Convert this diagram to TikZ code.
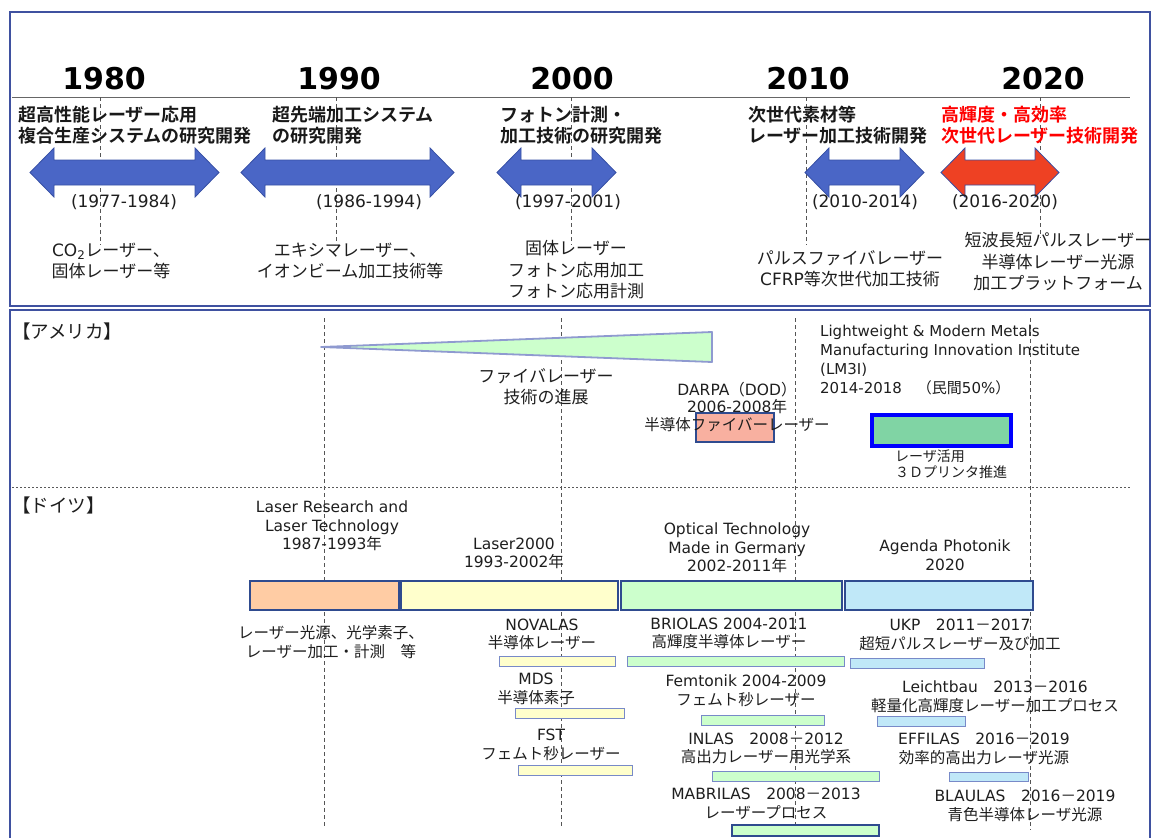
\documentclass[tikz,border=0pt]{standalone}
\usepackage{fontspec}
\setmainfont{Noto Sans CJK JP}[BoldFont={Noto Sans CJK JP Bold}]
\newfontfamily\latfont{DejaVu Sans}
\newcommand\Lat[1]{{\latfont #1}}
\definecolor{framec}{RGB}{63,81,160}
\definecolor{arrblue}{RGB}{74,102,198}
\definecolor{arrline}{RGB}{55,80,165}
\definecolor{arrred}{RGB}{238,65,35}
\definecolor{txtred}{RGB}{255,0,0}
\definecolor{barline}{RGB}{47,75,143}
\definecolor{thinline}{RGB}{120,138,200}
\definecolor{orangef}{RGB}{255,204,164}
\definecolor{yellowf}{RGB}{255,255,204}
\definecolor{greenf}{RGB}{204,255,204}
\definecolor{bluef}{RGB}{192,232,248}
\definecolor{pinkf}{RGB}{248,176,160}
\definecolor{lmf}{RGB}{128,212,164}
\definecolor{wedgel}{RGB}{143,154,208}
\definecolor{dashc}{RGB}{85,85,85}
\definecolor{txt}{RGB}{30,30,30}
\newcommand\DblArrow[3]{%
  \draw[#3] (#1,172.5) -- ({#1+24},148) -- ({#1+24},160) -- ({#2-24},160) -- ({#2-24},148)
    -- (#2,172.5) -- ({#2-24},197) -- ({#2-24},185) -- ({#1+24},185) -- ({#1+24},197) -- cycle;}
\begin{document}
\begin{tikzpicture}[x=1pt,y=-1pt,
  every node/.style={inner sep=0pt, text=txt},
  frame/.style={draw=framec, line width=1.5pt},
  tline/.style={draw=black!60, line width=1pt},
  vdash/.style={draw=dashc, line width=0.8pt, dash pattern=on 4pt off 3pt},
  sepline/.style={draw=black!65, line width=0.8pt, dash pattern=on 2pt off 2pt},
  yr/.style={font=\fontsize{30}{34}\selectfont\latfont\bfseries, text=black},
  hd/.style={font=\fontsize{18}{21}\selectfont\bfseries, align=left, anchor=west, text=black!90},
  per/.style={font=\fontsize{17}{20}\selectfont\latfont},
  dtop/.style={font=\fontsize{17}{21.5}\selectfont, align=center},
  lab/.style={font=\fontsize{15.5}{18.6}\selectfont, align=center},
  sml/.style={font=\fontsize{14}{16.5}\selectfont, align=left, anchor=west},
  sect/.style={font=\fontsize{18.5}{21}\selectfont, anchor=west},
  blarr/.style={fill=arrblue, draw=arrline, line width=0.8pt},
  rdarr/.style={fill=arrred, draw=arrline, line width=0.8pt},
  bigbar/.style={draw=barline, line width=2.2pt},
  subbar/.style={draw=thinline, line width=1pt},
]
\useasboundingbox (0,0) rectangle (1154,838);
% frames
\draw[frame] (10,12) rectangle (1150,306);
\draw[frame] (10,310) rectangle (1150,870);
% timeline
\draw[tline] (12,97) -- (1130,97);
% year labels
\node[yr] (y1980) at (104,79) {1980};
\node[yr] (y1990) at (339,79) {1990};
\node[yr] (y2000) at (572,79) {2000};
\node[yr] (y2010) at (808,79) {2010};
\node[yr] (y2020) at (1043,79) {2020};
% top dashed guides
\draw[vdash] (100,97) -- (100,245);
\draw[vdash] (336,97) -- (336,243);
\draw[vdash] (571,97) -- (571,245);
\draw[vdash] (806,97) -- (806,245);
\draw[vdash] (1040,97) -- (1040,238);
% arrows
\DblArrow{30}{219}{blarr}
\DblArrow{241}{454}{blarr}
\DblArrow{497}{616}{blarr}
\DblArrow{805}{924}{blarr}
\DblArrow{941}{1059}{rdarr}
% headings
\node[hd] (h1) at (18,125.5) {超高性能レーザー応用\\複合生産システムの研究開発};
\node[hd] (h2) at (272,125.5) {超先端加工システム\\の研究開発};
\node[hd] (h3) at (500,125.5) {フォトン計測・\\加工技術の研究開発};
\node[hd] (h4) at (748,125.5) {次世代素材等\\レーザー加工技術開発};
\node[hd, text=txtred] (h5) at (941,125.5) {高輝度・高効率\\次世代レーザー技術開発};
% periods
\node[per] (p1) at (124,202) {(1977-1984)};
\node[per] (p2) at (369,202) {(1986-1994)};
\node[per] (p3) at (568,202) {(1997-2001)};
\node[per] (p4) at (865,202) {(2010-2014)};
\node[per] (p5) at (1005,202) {(2016-2020)};
% descriptions
\node[dtop] (d1) at (111,261) {\Lat{CO\textsubscript{2}}レーザー、\\固体レーザー等};
\node[dtop] (d2) at (350,261) {エキシマレーザー、\\イオンビーム加工技術等};
\node[dtop] (d3) at (576,270) {固体レーザー\\フォトン応用加工\\フォトン応用計測};
\node[dtop] (d4) at (850,268.5) {パルスファイバレーザー\\\Lat{CFRP}等次世代加工技術};
\node[dtop] (d5) at (1058,262) {短波長短パルスレーザー\\半導体レーザー光源\\加工プラットフォーム};
% lower section guides
\draw[vdash] (324,318) -- (324,828);
\draw[vdash] (561,318) -- (561,828);
\draw[vdash] (795,318) -- (795,830);
\draw[vdash] (1030,318) -- (1030,830);
\draw[sepline] (12,487) -- (1130,487);
% America
\node[sect] (usa) at (12,331) {【アメリカ】};
\draw[draw=wedgel, fill=greenf, line width=1.8pt, line join=round] (321,347) -- (712,332) -- (712,362) -- cycle;
\node[dtop] (fiber) at (546,386.5) {ファイバレーザー\\技術の進展};
\draw[bigbar, fill=pinkf] (696,413) rectangle (774,442);
\node[lab, font=\fontsize{15.5}{17.5}\selectfont] (darpa) at (737,406.5) {\Lat{DARPA}（\Lat{DOD}）\\\Lat{2006-2008}年\\半導体ファイバーレーザー};
\node[lab, align=left, anchor=west, font=\fontsize{15}{19}\selectfont] (lm3i) at (820,360.5)
  {\Lat{Lightweight \& Modern Metals}\\\Lat{Manufacturing Innovation Institute}\\\Lat{(LM3I)}\\\Lat{2014-2018}　（民間\Lat{50\%}）};
\draw[draw=blue, fill=lmf, line width=3.5pt] (872,415) rectangle (1011,446);
\node[sml] (lmnote) at (895,464) {レーザ活用\\３Ｄプリンタ推進};
% Germany
\node[sect] (de) at (12,505) {【ドイツ】};
\node[lab] (g1) at (332,526) {\Lat{Laser Research and}\\\Lat{Laser Technology}\\\Lat{1987-1993}年};
\node[lab] (g2) at (514,553.5) {\Lat{Laser2000}\\\Lat{1993-2002}年};
\node[lab] (g3) at (737,548) {\Lat{Optical Technology}\\\Lat{Made in Germany}\\\Lat{2002-2011}年};
\node[lab] (g4) at (945,555.5) {\Lat{Agenda Photonik}\\\Lat{2020}};
\draw[bigbar, fill=orangef] (250,581) rectangle (399,610);
\draw[bigbar, fill=yellowf] (401,581) rectangle (618,610);
\draw[bigbar, fill=greenf] (621,581) rectangle (842,610);
\draw[bigbar, fill=bluef] (845,581) rectangle (1033,610);
\node[lab] (g1n) at (331,642) {レーザー光源、光学素子、\\レーザー加工・計測　等};
% sub projects: yellow
\node[lab] (nov) at (542,634.5) {\Lat{NOVALAS}\\半導体レーザー};
\draw[subbar, fill=yellowf] (499,656) rectangle (615,666);
\node[lab] (mds) at (536,689) {\Lat{MDS}\\半導体素子};
\draw[subbar, fill=yellowf] (515,708) rectangle (624,718);
\node[lab] (fst) at (551,745) {\Lat{FST}\\フェムト秒レーザー};
\draw[subbar, fill=yellowf] (518,765) rectangle (632,775);
% green
\node[lab] (bri) at (729,633.5) {\Lat{BRIOLAS 2004-2011}\\高輝度半導体レーザー};
\draw[subbar, fill=greenf] (627,656) rectangle (844,666);
\node[lab] (fem) at (746,690.5) {\Lat{Femtonik 2004-2009}\\フェムト秒レーザー};
\draw[subbar, fill=greenf] (701,715) rectangle (824,725);
\node[lab] (inl) at (766,748.5) {\Lat{INLAS}　\Lat{2008}－\Lat{2012}\\高出力レーザー用光学系};
\draw[subbar, fill=greenf] (712,771) rectangle (879,781);
\node[lab] (mab) at (766,803.5) {\Lat{MABRILAS}　\Lat{2008}－\Lat{2013}\\レーザープロセス};
\draw[bigbar, fill=greenf] (732,825) rectangle (879,836);
% blue
\node[lab] (ukp) at (960,635) {\Lat{UKP}　\Lat{2011}－\Lat{2017}\\超短パルスレーザー及び加工};
\draw[subbar, fill=bluef] (850,658) rectangle (984,668);
\node[lab] (lei) at (995,697) {\Lat{Leichtbau}　\Lat{2013}－\Lat{2016}\\軽量化高輝度レーザー加工プロセス};
\draw[subbar, fill=bluef] (877,716) rectangle (965,726);
\node[lab] (eff) at (984,749) {\Lat{EFFILAS}　\Lat{2016}－\Lat{2019}\\効率的高出力レーザ光源};
\draw[subbar, fill=bluef] (949,772) rectangle (1028,781);
\node[lab] (bla) at (1025,806) {\Lat{BLAULAS}　\Lat{2016}－\Lat{2019}\\青色半導体レーザ光源};
\end{tikzpicture}
\end{document}
